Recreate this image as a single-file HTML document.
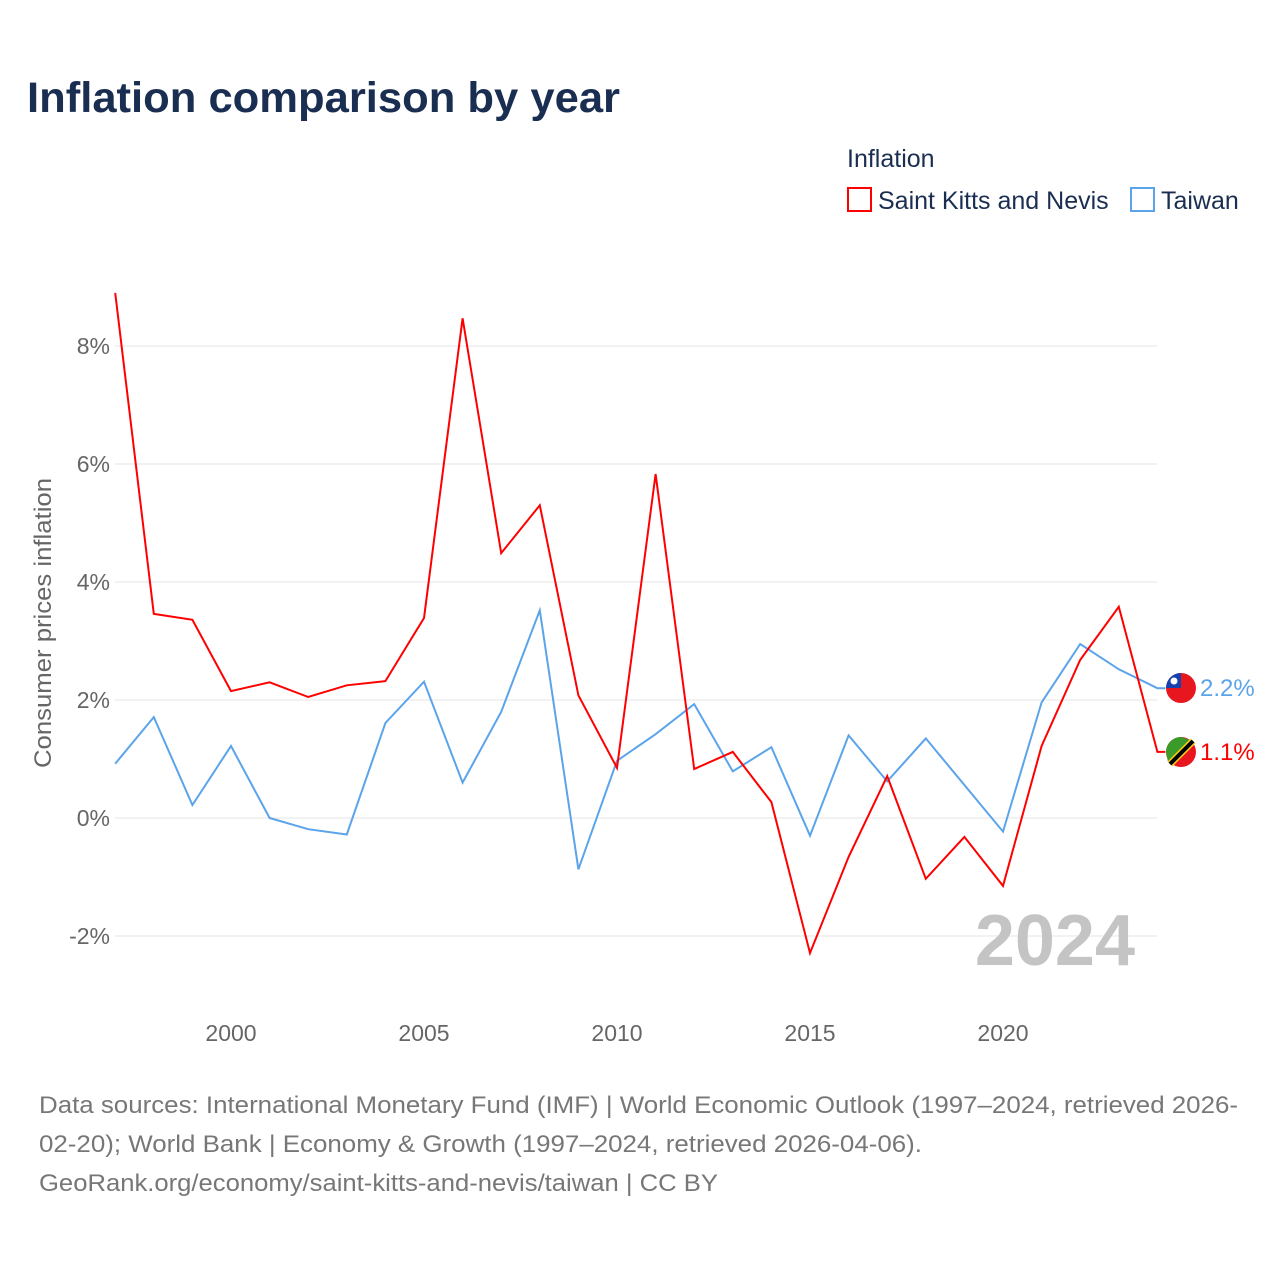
<!DOCTYPE html>
<html><head><meta charset="utf-8"><style>
body{margin:0;background:#fff;font-family:"Liberation Sans",sans-serif;}
svg text{font-family:"Liberation Sans",sans-serif;}
</style></head><body>
<svg width="1280" height="1280" viewBox="0 0 1280 1280">
<text x="27" y="112" font-size="43" font-weight="bold" fill="#1a2e52" textLength="593" lengthAdjust="spacingAndGlyphs">Inflation comparison by year</text>
<text x="847" y="167" font-size="25" fill="#1a2e52">Inflation</text>
<g><rect x="848" y="188" width="23" height="23" fill="none" stroke="#f00" stroke-width="2"/><text x="878" y="209" font-size="25" fill="#1a2e52">Saint Kitts and Nevis</text></g>
<g><rect x="1131" y="188" width="23" height="23" fill="none" stroke="#5ba4ea" stroke-width="2"/><text x="1161" y="209" font-size="25" fill="#1a2e52">Taiwan</text></g>
<g id="grid"></g>
<text transform="translate(51,623) rotate(-90)" text-anchor="middle" font-size="24" fill="#666" textLength="290" lengthAdjust="spacingAndGlyphs">Consumer prices inflation</text>
<text x="1135" y="965" text-anchor="end" font-size="72" font-weight="bold" fill="#c4c4c4">2024</text>
<g id="lines"></g>
<g><circle cx="1181" cy="688" r="15" fill="#e8161e"/><path d="M1166,688 A15,15 0 0,1 1181,673 L1181,688 Z" fill="#1841b0"/><circle cx="1174" cy="681" r="3.5" fill="#fff"/></g>
<text x="1200" y="696" font-size="24" fill="#5ba4ea">2.2%</text>
<g><circle cx="1181" cy="752" r="15" fill="#e8161e"/><path d="M1166,752 A15,15 0 0,1 1181,737 L1190,740 L1168,762 Z" fill="#3a9a2a"/><line x1="1170" y1="764" x2="1193" y2="741" stroke="#fcd116" stroke-width="7"/><line x1="1170" y1="764" x2="1193" y2="741" stroke="#000" stroke-width="4"/></g>
<text x="1200" y="760" font-size="24" fill="#f00">1.1%</text>
<text font-size="24" fill="#777"><tspan x="39" y="1113" textLength="1199" lengthAdjust="spacingAndGlyphs">Data sources: International Monetary Fund (IMF) | World Economic Outlook (1997–2024, retrieved 2026-</tspan><tspan x="39" y="1152" textLength="883" lengthAdjust="spacingAndGlyphs">02-20); World Bank | Economy &amp; Growth (1997–2024, retrieved 2026-04-06).</tspan><tspan x="39" y="1191" textLength="679" lengthAdjust="spacingAndGlyphs">GeoRank.org/economy/saint-kitts-and-nevis/taiwan | CC BY</tspan></text>
</svg>
<script>
const years=[1997,1998,1999,2000,2001,2002,2003,2004,2005,2006,2007,2008,2009,2010,2011,2012,2013,2014,2015,2016,2017,2018,2019,2020,2021,2022,2023,2024];
const sknValues=[8.9,3.46,3.36,2.15,2.3,2.05,2.25,2.32,3.39,8.47,4.49,5.3,2.08,0.85,5.83,0.83,1.12,0.27,-2.29,-0.66,0.71,-1.03,-0.32,-1.15,1.22,2.68,3.58,1.12];
const taiwanValues=[0.92,1.71,0.22,1.22,0.0,-0.19,-0.28,1.61,2.31,0.6,1.8,3.52,-0.87,0.97,1.42,1.93,0.79,1.2,-0.3,1.4,0.62,1.35,0.56,-0.23,1.96,2.95,2.52,2.2];
const yTicks=[-2,0,2,4,6,8];
const xTicks=[2000,2005,2010,2015,2020];
const NS='http://www.w3.org/2000/svg';
function xs(y){return 231+(y-2000)*38.6;}
function ys(v){return 818-v*59;}
const grid=document.getElementById('grid');
yTicks.forEach(t=>{
 const l=document.createElementNS(NS,'line');
 l.setAttribute('x1',115);l.setAttribute('x2',1157);l.setAttribute('y1',ys(t));l.setAttribute('y2',ys(t));
 l.setAttribute('stroke','#e6e6e6');
 
 
 grid.appendChild(l);
 const tx=document.createElementNS(NS,'text');
 tx.setAttribute('x',110);tx.setAttribute('y',ys(t)+8);tx.setAttribute('text-anchor','end');
 tx.setAttribute('font-size','23');tx.setAttribute('fill','#666');tx.textContent=t+'%';
 
 
 grid.appendChild(tx);
});
xTicks.forEach(t=>{
 const tx=document.createElementNS(NS,'text');
 tx.setAttribute('x',xs(t));tx.setAttribute('y',1041);tx.setAttribute('text-anchor','middle');
 tx.setAttribute('font-size','23');tx.setAttribute('fill','#666');tx.textContent=t;
 
 
 grid.appendChild(tx);
});
const lines=document.getElementById('lines');
function draw(vals,color,name){
 let d=vals.map((v,i)=>(i?'L':'M')+xs(years[i]).toFixed(1)+','+ys(v).toFixed(1)).join(' ');
 d+=' L'+(xs(years[years.length-1])+8).toFixed(1)+','+ys(vals[vals.length-1]).toFixed(1);
 const p=document.createElementNS(NS,'path');
 p.setAttribute('d',d);p.setAttribute('fill','none');p.setAttribute('stroke',color);p.setAttribute('stroke-width','2');
 
 
 lines.appendChild(p);
}
draw(taiwanValues,'#5ba4ea','taiwan-line');
draw(sknValues,'#f00','skn-line');
</script>
</body></html>
